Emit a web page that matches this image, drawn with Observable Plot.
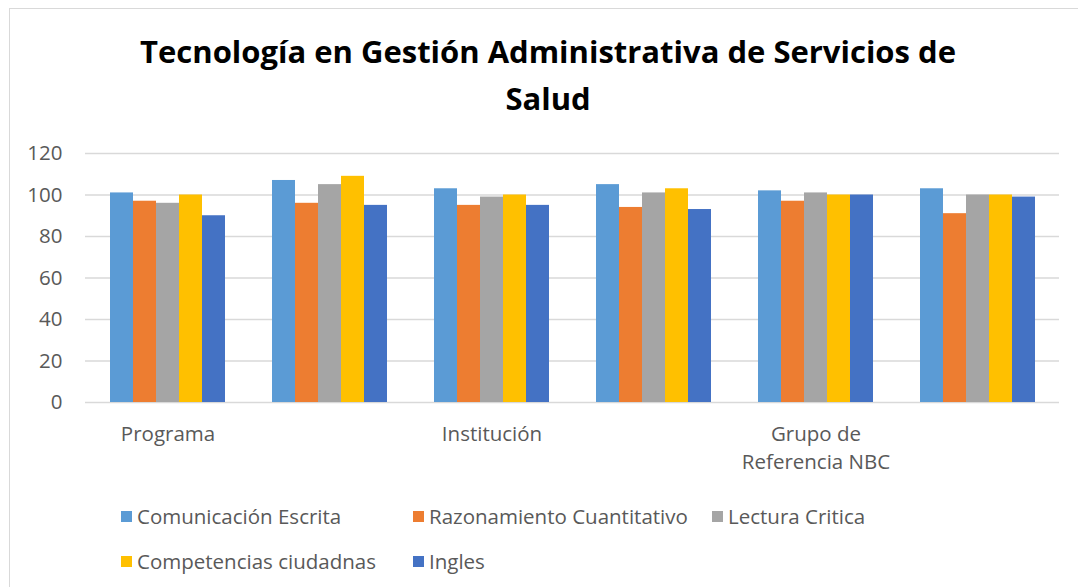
<!DOCTYPE html>
<html><head><meta charset="utf-8">
<script src="https://cdn.jsdelivr.net/npm/d3@7"></script>
<script src="https://cdn.jsdelivr.net/npm/@observablehq/plot@0.6"></script>
<style>
body{margin:0;background:#fff;font-family:"Open Sans",sans-serif}
#wrap{position:relative;width:1078px;height:587px;overflow:hidden;background:#fff}
#frame{position:absolute;left:9px;top:8px;width:1090px;height:620px;border:1px solid #d9d9d9;box-sizing:border-box}
#title{position:absolute;left:0;width:1096px;top:28px;text-align:center;font-weight:bold;font-size:31px;line-height:47px;color:#000}
.layer{position:absolute;left:0;top:130px}
.leg{position:absolute;display:flex;align-items:center;font-size:20.5px;color:#595959;white-space:nowrap;line-height:20px}
.leg span.sw{display:inline-block;width:11px;height:11px;margin-right:5px}
</style></head>
<body><div id="wrap"><div id="frame"></div>
<div id="title">Tecnología en Gestión Administrativa de Servicios de<br>Salud</div>
<div id="bg" class="layer"></div><div id="fg" class="layer"></div>
<div id="legend"></div>
</div>
<script>
const categories = ["Programa","Programa 2","Institución","Institución 2","Grupo de Referencia NBC","Grupo de Referencia NBC 2"];
const tickLabels = ["Programa","","Institución","","Grupo de\nReferencia NBC",""];
const seriesNames = ["Comunicación Escrita","Razonamiento Cuantitativo","Lectura Critica","Competencias ciudadnas","Ingles"];
const colors = ["#5B9BD5","#ED7D31","#A5A5A5","#FFC000","#4472C4"];
const comunicacion = [101,107,103,105,102,103];
const razonamiento = [97,96,95,94,97,91];
const lectura = [96,105,99,101,101,100];
const competencias = [100,109,100,103,100,100];
const ingles = [90,95,95,93,100,99];
const yTicks = [0,20,40,60,80,100,120];

const seriesValues = [comunicacion, razonamiento, lectura, competencias, ingles];
const data = [];
categories.forEach((g, gi) => seriesNames.forEach((s, si) => data.push({group: g, serie: s, value: seriesValues[si][gi]})));

const W = 1078, H = 352, ML = 85, MR = 19, MT = 23, MB = 80;
const font = {fontFamily: "'Open Sans', sans-serif", background: "transparent", overflow: "visible"};

const bg = Plot.plot({
  width: W, height: H, marginLeft: ML, marginRight: MR, marginTop: MT, marginBottom: MB,
  style: font,
  y: {domain: [0, 120]},
  marks: [
    Plot.gridY(yTicks, {stroke: "#d9d9d9", strokeOpacity: 1, strokeWidth: 1.5}),
    Plot.axisY(yTicks, {tickSize: 0, tickPadding: 23, fontSize: 20.5, fill: "#595959", label: null})
  ]
});
document.getElementById("bg").appendChild(bg);

const fg = Plot.plot({
  width: W, height: H, marginLeft: ML, marginRight: MR, marginTop: MT, marginBottom: MB,
  style: font,
  fx: {domain: categories, paddingInner: 0.267, paddingOuter: 0.133, label: null},
  x: {domain: seriesNames, padding: 0, axis: null},
  y: {domain: [0, 120], axis: null},
  color: {domain: seriesNames, range: colors},
  marks: [
    Plot.barY(data, {fx: "group", x: "serie", y: "value", fill: "serie", inset: 0}),
    Plot.axisFx({anchor: "bottom", tickSize: 0, tickPadding: 18, fontSize: 20.5, fill: "#595959", lineHeight: 1.38, label: null,
      tickFormat: d => tickLabels[categories.indexOf(d)]})
  ]
});
document.getElementById("fg").appendChild(fg);

// legend
const legendPos = [[121,506],[413,506],[712,506],[121,551],[413,551]];
const leg = document.getElementById("legend");
seriesNames.forEach((s, i) => {
  const d = document.createElement("div");
  d.className = "leg";
  d.style.left = legendPos[i][0] + "px";
  d.style.top = legendPos[i][1] + "px";
  const sw = document.createElement("span");
  sw.className = "sw"; sw.style.background = colors[i];
  d.appendChild(sw);
  d.appendChild(document.createTextNode(s));
  leg.appendChild(d);
});
</script>
</body></html>
